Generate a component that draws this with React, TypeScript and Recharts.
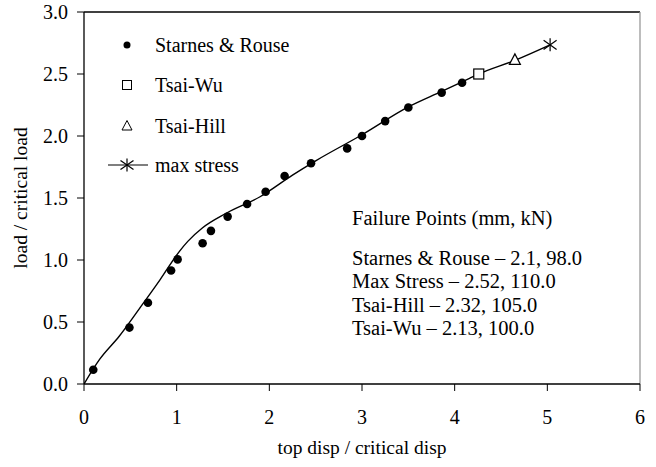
import React from "react";
import { ComposedChart, Line, Scatter, XAxis, YAxis, ReferenceLine, Customized } from "recharts";

const curveX = [0, 0.17, 0.38, 0.6, 0.82, 1.03, 1.12, 1.28, 1.53, 1.9, 2.25, 2.5, 3.0, 3.5, 3.86, 4.16, 4.26, 4.65, 5.03];
const curveY = [0, 0.2, 0.385, 0.61, 0.84, 1.07, 1.15, 1.26, 1.375, 1.51, 1.685, 1.8, 2.01, 2.235, 2.36, 2.465, 2.5, 2.61, 2.735];

const starnesX = [0.1, 0.49, 0.69, 0.94, 1.01, 1.28, 1.37, 1.55, 1.76, 1.96, 2.165, 2.45, 2.84, 3.0, 3.25, 3.5, 3.86, 4.08];
const starnesY = [0.115, 0.455, 0.655, 0.915, 1.005, 1.135, 1.235, 1.35, 1.452, 1.55, 1.677, 1.78, 1.9, 2.0, 2.12, 2.23, 2.35, 2.43];

const tsaiWu = [{ x: 4.26, y: 2.5 }];
const tsaiHill = [{ x: 4.65, y: 2.61 }];
const maxStress = [{ x: 5.03, y: 2.735 }];

const xTicks = [0, 1, 2, 3, 4, 5, 6];
const yTicks = [0, 0.5, 1, 1.5, 2, 2.5, 3];

const legendLabels = ["Starnes & Rouse", "Tsai-Wu", "Tsai-Hill", "max stress"];
const noteTitle = "Failure Points (mm, kN)";
const noteLines = [
  "Starnes & Rouse \u2013 2.1, 98.0",
  "Max Stress \u2013 2.52, 110.0",
  "Tsai-Hill \u2013 2.32, 105.0",
  "Tsai-Wu \u2013 2.13, 100.0",
];

const curveData = curveX.map((x, i) => ({ x, y: curveY[i] }));
const starnesData = starnesX.map((x, i) => ({ x, y: starnesY[i] }));

const FONT = "'Liberation Serif', 'Times New Roman', serif";

const Dot = (p: any) => <circle cx={p.cx} cy={p.cy} r={4.3} fill="#000" />;
const Square = (p: any) => (
  <rect x={p.cx - 5} y={p.cy - 5} width={10} height={10} fill="#fff" stroke="#000" strokeWidth={1.2} />
);
const Tri = (p: any) => (
  <polygon
    points={`${p.cx},${p.cy - 6.5} ${p.cx - 5.5},${p.cy + 4} ${p.cx + 5.5},${p.cy + 4}`}
    fill="#fff"
    stroke="#000"
    strokeWidth={1.2}
  />
);
const Star = (p: any) => {
  const r = 6.5;
  return (
    <g stroke="#000" strokeWidth={1.2}>
      <line x1={p.cx} y1={p.cy - r} x2={p.cx} y2={p.cy + r} />
      <line x1={p.cx - r} y1={p.cy - r * 0.7} x2={p.cx + r} y2={p.cy + r * 0.7} />
      <line x1={p.cx - r} y1={p.cy + r * 0.7} x2={p.cx + r} y2={p.cy - r * 0.7} />
    </g>
  );
};

const XTick = (p: any) => (
  <text x={p.x} y={p.y + 14} textAnchor="middle" fontFamily={FONT} fontSize={20} fill="#000">
    {p.payload.value}
  </text>
);
const YTick = (p: any) => (
  <text x={p.x} y={p.y + 6.5} textAnchor="end" fontFamily={FONT} fontSize={20} fill="#000">
    {Number(p.payload.value).toFixed(1)}
  </text>
);

const Extras = () => {
  const lx = 127;
  const tx = 155;
  const ys = [45, 85, 126, 165];
  return (
    <g fontFamily={FONT} fontSize={20} fill="#000">
      <circle cx={lx} cy={ys[0]} r={3.5} fill="#000" />
      <rect x={lx - 4.5} y={ys[1] - 4.5} width={9} height={9} fill="#fff" stroke="#000" strokeWidth={1} />
      <polygon
        points={`${lx},${ys[2] - 5.5} ${lx - 5},${ys[2] + 4} ${lx + 5},${ys[2] + 4}`}
        fill="#fff"
        stroke="#000"
        strokeWidth={1}
      />
      <line x1={108} y1={ys[3]} x2={148} y2={ys[3]} stroke="#000" strokeWidth={1.2} />
      <Star cx={lx} cy={ys[3]} />
      {legendLabels.map((t, i) => (
        <text key={t} x={tx} y={ys[i] + 6.5}>
          {t}
        </text>
      ))}
      <text x={352} y={225} fontSize={20.5}>
        {noteTitle}
      </text>
      {noteLines.map((t, i) => (
        <text key={t} x={352} y={265 + i * 23.3} fontSize={20.5}>
          {t}
        </text>
      ))}
      <text x={362} y={454} textAnchor="middle" fontSize={19.5}>
        top disp / critical disp
      </text>
      <text x={27} y={198} textAnchor="middle" fontSize={19.5} transform="rotate(-90 27 198)">
        load / critical load
      </text>
    </g>
  );
};

export default function App() {
  return (
    <div
      style={{ position: "absolute", left: 0, top: 0, width: 656, height: 467, background: "#fff", fontFamily: FONT }}
    >
      <ComposedChart width={656} height={467} margin={{ top: 12, right: 16, bottom: 0, left: 0 }}>
        <XAxis
          type="number"
          dataKey="x"
          domain={[0, 6]}
          ticks={xTicks}
          height={83}
          tickSize={7}
          tickMargin={19}
          axisLine={{ stroke: "#000", strokeWidth: 1.3 }}
          tickLine={{ stroke: "#000" }}
          tick={<XTick />}
          allowDataOverflow
        />
        <YAxis
          type="number"
          dataKey="y"
          domain={[0, 3]}
          ticks={yTicks}
          width={84}
          tickSize={7}
          tickMargin={9}
          axisLine={{ stroke: "#000", strokeWidth: 1.3 }}
          tickLine={{ stroke: "#000" }}
          tick={<YTick />}
          allowDataOverflow
        />
        <ReferenceLine y={3} stroke="#000" strokeWidth={1.3} />
        <ReferenceLine x={6} stroke="#999" strokeWidth={1.3} />
        <Line
          data={curveData}
          dataKey="y"
          type="monotone"
          stroke="#000"
          strokeWidth={1.4}
          dot={false}
          activeDot={false}
          isAnimationActive={false}
        />
        <Scatter data={starnesData} dataKey="y" shape={Dot} isAnimationActive={false} />
        <Scatter data={tsaiWu} dataKey="y" shape={Square} isAnimationActive={false} />
        <Scatter data={tsaiHill} dataKey="y" shape={Tri} isAnimationActive={false} />
        <Scatter data={maxStress} dataKey="y" shape={Star} isAnimationActive={false} />
        <Customized component={Extras} />
      </ComposedChart>
    </div>
  );
}
